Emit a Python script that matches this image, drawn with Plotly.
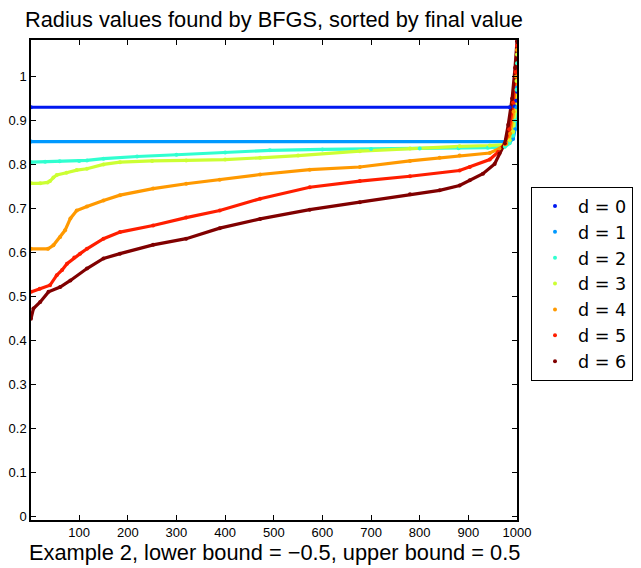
import plotly.graph_objects as go

labels = ["d = 0", "d = 1", "d = 2", "d = 3", "d = 4", "d = 5", "d = 6"]
colors = ["#0018F0", "#0099FF", "#30FFD0", "#CCFF33", "#FF9900", "#FF1E00", "#800000"]

x0 = [1, 985, 995, 998, 1000]
y0 = [0.930, 0.930, 0.932, 0.945, 0.965]

x1 = [1, 985, 992, 996, 999, 1000]
y1 = [0.852, 0.852, 0.858, 0.880, 0.930, 0.975]

x2 = [1, 30, 60, 100, 116, 150, 219, 300, 400, 492, 600, 700, 800, 880, 940, 975, 985, 992, 996, 999, 1000]
y2 = [0.805, 0.806, 0.807, 0.808, 0.809, 0.813, 0.818, 0.822, 0.827, 0.832, 0.834, 0.835, 0.836, 0.837, 0.838, 0.840, 0.848, 0.865, 0.900, 0.970, 1.030]

x3 = [1, 20, 35, 40, 47, 54, 74, 95, 116, 150, 184, 250, 320, 400, 472, 550, 677, 780, 882, 944, 975, 985, 992, 996, 999, 1000]
y3 = [0.757, 0.757, 0.759, 0.762, 0.770, 0.776, 0.781, 0.787, 0.790, 0.800, 0.805, 0.808, 0.809, 0.811, 0.815, 0.820, 0.830, 0.836, 0.841, 0.843, 0.845, 0.855, 0.875, 0.920, 0.990, 1.050]

x4 = [1, 36, 47, 61, 71, 82, 95, 116, 150, 184, 252, 320, 389, 472, 574, 677, 780, 841, 882, 944, 964, 978, 986, 993, 998, 1000]
y4 = [0.608, 0.608, 0.616, 0.635, 0.650, 0.677, 0.695, 0.704, 0.718, 0.730, 0.745, 0.756, 0.765, 0.777, 0.788, 0.794, 0.808, 0.815, 0.820, 0.826, 0.836, 0.847, 0.870, 0.920, 1.000, 1.060]

x5 = [1, 19, 40, 54, 65, 75, 90, 102, 116, 150, 184, 252, 320, 389, 472, 574, 677, 780, 882, 903, 944, 961, 975, 984, 992, 997, 1000]
y5 = [0.510, 0.517, 0.525, 0.548, 0.560, 0.574, 0.588, 0.597, 0.608, 0.631, 0.646, 0.661, 0.679, 0.695, 0.722, 0.748, 0.762, 0.773, 0.786, 0.794, 0.811, 0.828, 0.847, 0.880, 0.940, 1.010, 1.070]

x6 = [1, 6, 20, 37, 61, 82, 116, 150, 184, 252, 320, 389, 472, 574, 677, 780, 841, 882, 903, 930, 954, 964, 975, 982, 990, 996, 1000]
y6 = [0.449, 0.472, 0.487, 0.510, 0.521, 0.536, 0.563, 0.586, 0.597, 0.617, 0.631, 0.655, 0.676, 0.697, 0.714, 0.732, 0.741, 0.752, 0.764, 0.779, 0.801, 0.825, 0.848, 0.890, 0.950, 1.020, 1.080]

series_x = [x0, x1, x2, x3, x4, x5, x6]
series_y = [y0, y1, y2, y3, y4, y5, y6]

x_ticks = [100, 200, 300, 400, 500, 600, 700, 800, 900, 1000]
y_ticks = [0, 0.1, 0.2, 0.3, 0.4, 0.5, 0.6, 0.7, 0.8, 0.9, 1]
y_tick_text = ["0", "0.1", "0.2", "0.3", "0.4", "0.5", "0.6", "0.7", "0.8", "0.9", "1"]

title_text = "Radius values found by BFGS, sorted by final value"
xlabel_text = "Example 2, lower bound = \u22120.5, upper bound = 0.5"

FONT = "Liberation Sans, Arial, Helvetica, sans-serif"
LEG_FONT = "DejaVu Sans, sans-serif"

fig = go.Figure()
for lab, col, xs, ys in zip(labels, colors, series_x, series_y):
    fig.add_trace(go.Scatter(x=xs, y=ys, mode="lines", line=dict(color=col, width=3.2),
                             showlegend=False, hoverinfo="skip"))
for lab, col, xs, ys in zip(labels, colors, series_x, series_y):
    fig.add_trace(go.Scatter(x=xs, y=ys, mode="markers", name=lab,
                             marker=dict(color=col, size=4)))

axis_common = dict(showline=True, linecolor="black", linewidth=1.5, mirror="ticks",
                   ticks="inside", ticklen=5, tickcolor="black", showgrid=False,
                   zeroline=False, automargin=False,
                   tickfont=dict(family=FONT, size=13, color="black"))

# page body has an 8px default margin, so the figure is offset by 8px
W, H = 633, 560
fig.update_layout(
    width=W, height=H, autosize=False,
    margin=dict(l=23, r=124, t=32, b=48),
    paper_bgcolor="white", plot_bgcolor="white",
    font=dict(family=FONT, color="black"),
    xaxis=dict(range=[1, 1000], tickvals=x_ticks, **axis_common),
    yaxis=dict(range=[-0.009, 1.083], tickvals=y_ticks, ticktext=y_tick_text, **axis_common),
    legend=dict(xref="container", yref="container", x=523 / W, y=1 - 179 / H,
                xanchor="left", yanchor="top",
                bordercolor="black", borderwidth=1, bgcolor="white", itemwidth=36,
                font=dict(family=LEG_FONT, size=17.6, color="black"), tracegroupgap=0),
    annotations=[
        dict(text=title_text, xref="paper", yref="paper", x=0.5, y=1.0425,
             xanchor="center", yanchor="middle", showarrow=False,
             font=dict(family=FONT, size=21.8, color="black")),
        dict(text=xlabel_text, xref="paper", yref="paper", x=0.5, y=-0.0675,
             xanchor="center", yanchor="middle", showarrow=False,
             font=dict(family=FONT, size=21.8, color="black")),
    ],
)

fig.write_html("out.html")
